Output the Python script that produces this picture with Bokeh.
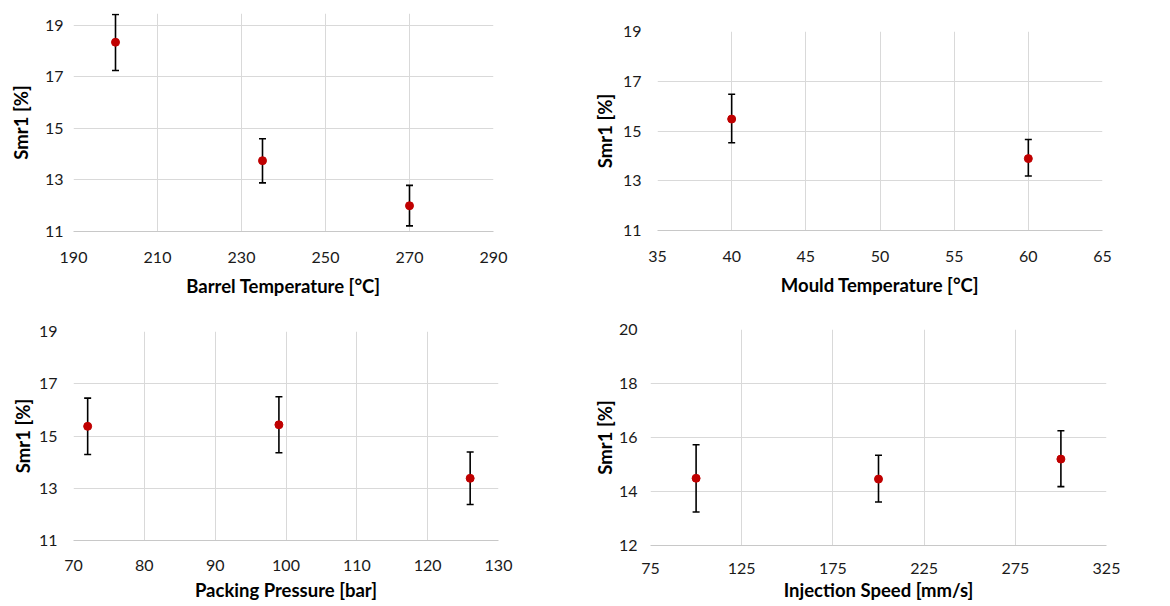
from bokeh.plotting import figure
from bokeh.layouts import column, row
from bokeh.models import FixedTicker, Range1d
from bokeh.embed import file_html
from bokeh.resources import INLINE

# ---- data ----
barrel_x = [200, 235, 270]
barrel_y = [18.35, 13.75, 12.0]
barrel_lo = [17.25, 12.89, 11.22]
barrel_hi = [19.43, 14.6, 12.79]
barrel_xticks = [190, 210, 230, 250, 270, 290]
barrel_yticks = [11, 13, 15, 17, 19]

mould_x = [40, 60]
mould_y = [15.48, 13.89]
mould_lo = [14.53, 13.19]
mould_hi = [16.48, 14.66]
mould_xticks = [35, 40, 45, 50, 55, 60, 65]
mould_yticks = [11, 13, 15, 17, 19]

pack_x = [72, 99, 126]
pack_y = [15.37, 15.43, 13.38]
pack_lo = [14.29, 14.36, 12.38]
pack_hi = [16.45, 16.5, 14.39]
pack_xticks = [70, 80, 90, 100, 110, 120, 130]
pack_yticks = [11, 13, 15, 17, 19]

speed_x = [100, 200, 300]
speed_y = [14.49, 14.46, 15.2]
speed_lo = [13.24, 13.61, 14.18]
speed_hi = [15.73, 15.34, 16.25]
speed_xticks = [75, 125, 175, 225, 275, 325]
speed_yticks = [12, 14, 16, 18, 20]

FONT = "Lato"
GRID = "#d9d9d9"


def panel(x, y, lo, hi, xlabel, xr, yr, xticks, yticks, fw, fh,
          bl, br, bt, bb, ystand, ylab_stand, xstand, xlab_stand):
    p = figure(output_backend="svg", toolbar_location=None,
               frame_width=fw, frame_height=fh,
               min_border_left=bl, min_border_right=br,
               min_border_top=bt, min_border_bottom=bb,
               x_range=Range1d(*xr), y_range=Range1d(*yr))
    p.frame_align = False
    p.outline_line_color = None
    p.background_fill_color = "white"
    p.border_fill_color = "white"
    p.xaxis.ticker = FixedTicker(ticks=xticks)
    p.yaxis.ticker = FixedTicker(ticks=yticks)
    for ax in (p.xaxis, p.yaxis):
        ax.major_tick_line_color = None
        ax.minor_tick_line_color = None
        ax.major_tick_out = 0
        ax.major_tick_in = 0
        ax.major_label_text_font = FONT
        ax.major_label_text_font_size = "16px"
        ax.major_label_text_color = "#1a1a1a"
        ax.axis_label_text_font = FONT
        ax.axis_label_text_font_style = "bold"
        ax.axis_label_text_font_size = "18.5px"
        ax.axis_label_text_color = "#000000"
    p.xaxis.axis_line_color = "#c8c8c8"
    p.yaxis.axis_line_color = None
    p.xaxis.major_label_standoff = xstand
    p.xaxis.axis_label_standoff = xlab_stand
    p.yaxis.major_label_standoff = ystand
    p.yaxis.axis_label_standoff = ylab_stand
    p.xaxis.axis_label = xlabel
    p.yaxis.axis_label = "Smr1 [%]"
    p.xgrid.ticker = FixedTicker(ticks=xticks)
    p.ygrid.ticker = FixedTicker(ticks=yticks)
    p.grid.grid_line_color = GRID
    p.grid.grid_line_width = 1

    p.segment(x0=x, y0=lo, x1=x, y1=hi, line_color="black", line_width=1.6)
    p.scatter(x=x + x, y=lo + hi, marker="dash", size=7,
              line_color="black", line_width=1.6)
    p.scatter(x=x, y=y, marker="circle", size=8,
              fill_color="#c00000", line_color="#c00000")
    return p


p1 = panel(barrel_x, barrel_y, barrel_lo, barrel_hi, "Barrel Temperature [°C]",
           (190, 290), (11, 19.466), barrel_xticks, barrel_yticks,
           420, 218, 73, 97, 13, 69, 10, 10, 20, 9)
p2 = panel(mould_x, mould_y, mould_lo, mould_hi, "Mould Temperature [°C]",
           (35, 65), (11, 19), mould_xticks, mould_yticks,
           445, 199, 64, 71, 31, 70, 16, 4, 20, 9)
p3 = panel(pack_x, pack_y, pack_lo, pack_hi, "Packing Pressure [bar]",
           (70, 130), (11, 19), pack_xticks, pack_yticks,
           425, 209, 73, 92, 31, 66, 16, 2, 19, 5)
p4 = panel(speed_x, speed_y, speed_lo, speed_hi, "Injection Speed [mm/s]",
           (75, 325), (12, 20), speed_xticks, speed_yticks,
           456, 216, 53, 71, 29, 61, 13, 0, 17, 2)

layout = column(row(p1, p2), row(p3, p4))
open("out.html", "w").write(file_html(layout, INLINE))
